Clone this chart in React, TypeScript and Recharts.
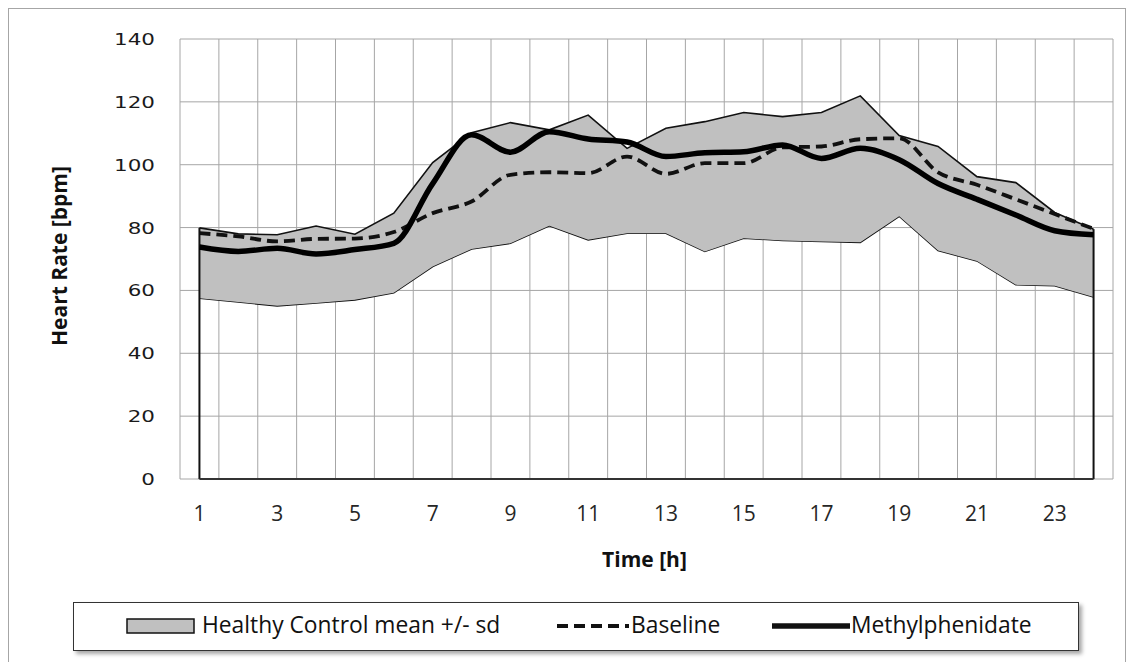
import React from 'react';
import {
  ComposedChart,
  Area,
  Line,
  XAxis,
  YAxis,
  CartesianGrid,
  ReferenceLine,
  Legend,
} from 'recharts';

// ---- data ----
const hours = [1, 2, 3, 4, 5, 6, 7, 8, 9, 10, 11, 12, 13, 14, 15, 16, 17, 18, 19, 20, 21, 22, 23, 24];
const controlLower = [57.5, 56.3, 55.1, 56.0, 57.0, 59.3, 67.6, 73.2, 75.0, 80.6, 76.1, 78.2, 78.2, 72.4, 76.6, 75.9, 75.6, 75.3, 83.6, 72.7, 69.4, 61.8, 61.5, 57.9];
const controlUpper = [79.9, 78.0, 77.7, 80.5, 77.9, 84.6, 100.7, 110.2, 113.4, 111.1, 115.8, 105.2, 111.6, 113.7, 116.6, 115.3, 116.6, 121.9, 109.3, 105.8, 96.2, 94.3, 84.8, 79.5];
const baseline = [78.2, 77.2, 75.6, 76.4, 76.5, 78.6, 84.6, 88.3, 96.8, 97.6, 97.3, 102.6, 97.1, 100.5, 100.5, 105.5, 105.8, 108.1, 108.4, 97.6, 93.6, 89.0, 84.3, 79.6];
const methylphenidate = [73.8, 72.4, 73.4, 71.6, 73.0, 75.0, 94.0, 109.5, 104.0, 110.5, 108.2, 107.2, 102.6, 103.8, 104.1, 106.3, 102.0, 105.2, 101.6, 94.0, 89.0, 84.0, 79.0, 77.7];

const xTicks = [1, 3, 5, 7, 9, 11, 13, 15, 17, 19, 21, 23];
const yTicks = [0, 20, 40, 60, 80, 100, 120, 140];
const gridHours = [0.5, 1.5, 2.5, 3.5, 4.5, 5.5, 6.5, 7.5, 8.5, 9.5, 10.5, 11.5, 12.5, 13.5, 14.5, 15.5, 16.5, 17.5, 18.5, 19.5, 20.5, 21.5, 22.5, 23.5, 24.5];

const legendLabels = ['Healthy Control mean +/- sd', 'Baseline', 'Methylphenidate'];

const data = hours.map((h, i) => ({
  hour: h,
  lower: controlLower[i],
  band: controlUpper[i] - controlLower[i],
  baseline: baseline[i],
  mph: methylphenidate[i],
}));

const firstHour = hours[0];
const lastHour = hours[hours.length - 1];

const XTick = (props: any) => {
  const { x, y, payload } = props;
  return (
    <text
      x={x}
      y={y + 42}
      textAnchor="middle"
      fontFamily="'Open Sans', sans-serif"
      fontSize={21}
      fill="#262626"
    >
      {payload.value}
    </text>
  );
};

const YTick = (props: any) => {
  const { x, y, payload } = props;
  return (
    <g transform={`translate(${x - 25},${y})`}>
      <text
        x={0}
        y={0}
        dy="0.36em"
        textAnchor="end"
        transform="scale(1.3,1)"
        fontFamily="'DejaVu Sans', sans-serif"
        fontSize={16.5}
        fill="#1a1a1a"
      >
        {payload.value}
      </text>
    </g>
  );
};

const YTitle = (props: any) => {
  const vb = props.viewBox || { x: 0, y: 0, width: 0, height: 0 };
  const cx = vb.x + 50;
  const cy = vb.y + vb.height / 2 - 3;
  return (
    <text
      x={cx}
      y={cy}
      transform={`rotate(-90, ${cx}, ${cy})`}
      textAnchor="middle"
      dominantBaseline="central"
      fontFamily="'Open Sans', sans-serif"
      fontWeight="bold"
      fontSize={21}
      fill="#111"
    >
      Heart Rate [bpm]
    </text>
  );
};

const XTitle = (props: any) => {
  const vb = props.viewBox || { x: 0, y: 0, width: 0, height: 0 };
  return (
    <text
      x={vb.x + vb.width / 2 - 2}
      y={vb.y + 88}
      textAnchor="middle"
      fontFamily="'Open Sans', sans-serif"
      fontWeight="bold"
      fontSize={21}
      fill="#111"
    >
      Time [h]
    </text>
  );
};

const LegendBox = () => {
  const textStyle: React.CSSProperties = {
    position: 'absolute',
    top: -2,
    height: '100%',
    display: 'flex',
    alignItems: 'center',
    fontFamily: "'Open Sans', sans-serif",
    fontSize: 22.8,
    color: '#111',
    whiteSpace: 'nowrap',
  };
  return (
    <div
      style={{
        position: 'relative',
        width: 1006,
        height: 49,
        boxSizing: 'border-box',
        border: '1.5px solid #333',
        background: '#fff',
        boxShadow: '3px 3px 4px rgba(0,0,0,0.35)',
      }}
    >
      <svg style={{ position: 'absolute', left: 52, top: 15 }} width={70} height={17}>
        <rect x={1} y={1} width={67} height={14} fill="#c0c0c0" stroke="#111" strokeWidth={1.5} />
      </svg>
      <span style={{ ...textStyle, left: 128 }}>{legendLabels[0]}</span>
      <svg style={{ position: 'absolute', left: 481, top: 18 }} width={76} height={10}>
        <line x1={2} y1={5} x2={74} y2={5} stroke="#111" strokeWidth={4} strokeDasharray="11 6" />
      </svg>
      <span style={{ ...textStyle, left: 557 }}>{legendLabels[1]}</span>
      <svg style={{ position: 'absolute', left: 698, top: 18 }} width={78} height={10}>
        <line x1={1} y1={5} x2={78} y2={5} stroke="#111" strokeWidth={5.5} strokeLinecap="round" />
      </svg>
      <span style={{ ...textStyle, left: 777 }}>{legendLabels[2]}</span>
    </div>
  );
};

export default function App() {
  return (
    <div
      style={{
        width: 1118,
        height: 660,
        border: '1px solid #a6a6a6',
        boxSizing: 'border-box',
        background: '#fff',
        position: 'relative',
      }}
    >
      <ComposedChart
        width={1116}
        height={650}
        data={data}
        margin={{ top: 30, right: 12, bottom: 0, left: 0 }}
      >
        <XAxis
          xAxisId="grid"
          dataKey="hour"
          type="number"
          domain={[0.5, 24.5]}
          ticks={gridHours}
          hide
        />
        <CartesianGrid
          xAxisId="grid"
          stroke="#a6a6a6"
          strokeWidth={1}
          horizontalValues={yTicks}
        />
        <XAxis
          dataKey="hour"
          type="number"
          domain={[0.5, 24.5]}
          ticks={xTicks}
          interval={0}
          axisLine={false}
          tickLine={false}
          tickSize={0}
          tickMargin={0}
          height={180}
          tick={<XTick />}
          label={<XTitle />}
        />
        <YAxis
          type="number"
          domain={[0, 140]}
          ticks={yTicks}
          interval={0}
          axisLine={false}
          tickLine={false}
          tickSize={0}
          tickMargin={0}
          width={171}
          tick={<YTick />}
          label={<YTitle />}
        />
        <Area
          type="linear"
          dataKey="lower"
          stackId="sd"
          fill="none"
          stroke="#111"
          strokeWidth={1.6}
          isAnimationActive={false}
          dot={false}
          activeDot={false}
        />
        <Area
          type="linear"
          dataKey="band"
          stackId="sd"
          fill="#c0c0c0"
          fillOpacity={1}
          stroke="#111"
          strokeWidth={1.6}
          isAnimationActive={false}
          dot={false}
          activeDot={false}
        />
        <ReferenceLine
          segment={[{ x: firstHour, y: 0 }, { x: firstHour, y: controlUpper[0] }]}
          stroke="#111"
          strokeWidth={2}
        />
        <ReferenceLine
          segment={[{ x: lastHour, y: 0 }, { x: lastHour, y: controlUpper[controlUpper.length - 1] }]}
          stroke="#111"
          strokeWidth={2}
        />
        <ReferenceLine
          segment={[{ x: firstHour, y: 0 }, { x: lastHour, y: 0 }]}
          stroke="#333"
          strokeWidth={2}
        />
        <Line
          type="monotone"
          dataKey="baseline"
          stroke="#111"
          strokeWidth={3.8}
          strokeDasharray="11 6"
          dot={false}
          activeDot={false}
          isAnimationActive={false}
        />
        <Line
          type="monotone"
          dataKey="mph"
          stroke="#000"
          strokeWidth={5.5}
          dot={false}
          activeDot={false}
          isAnimationActive={false}
        />
        <Legend
          layout="horizontal"
          verticalAlign="middle"
          align="center"
          wrapperStyle={{ left: 64, top: 593, width: 1006, height: 49 }}
          content={() => <LegendBox />}
        />
      </ComposedChart>
    </div>
  );
}
